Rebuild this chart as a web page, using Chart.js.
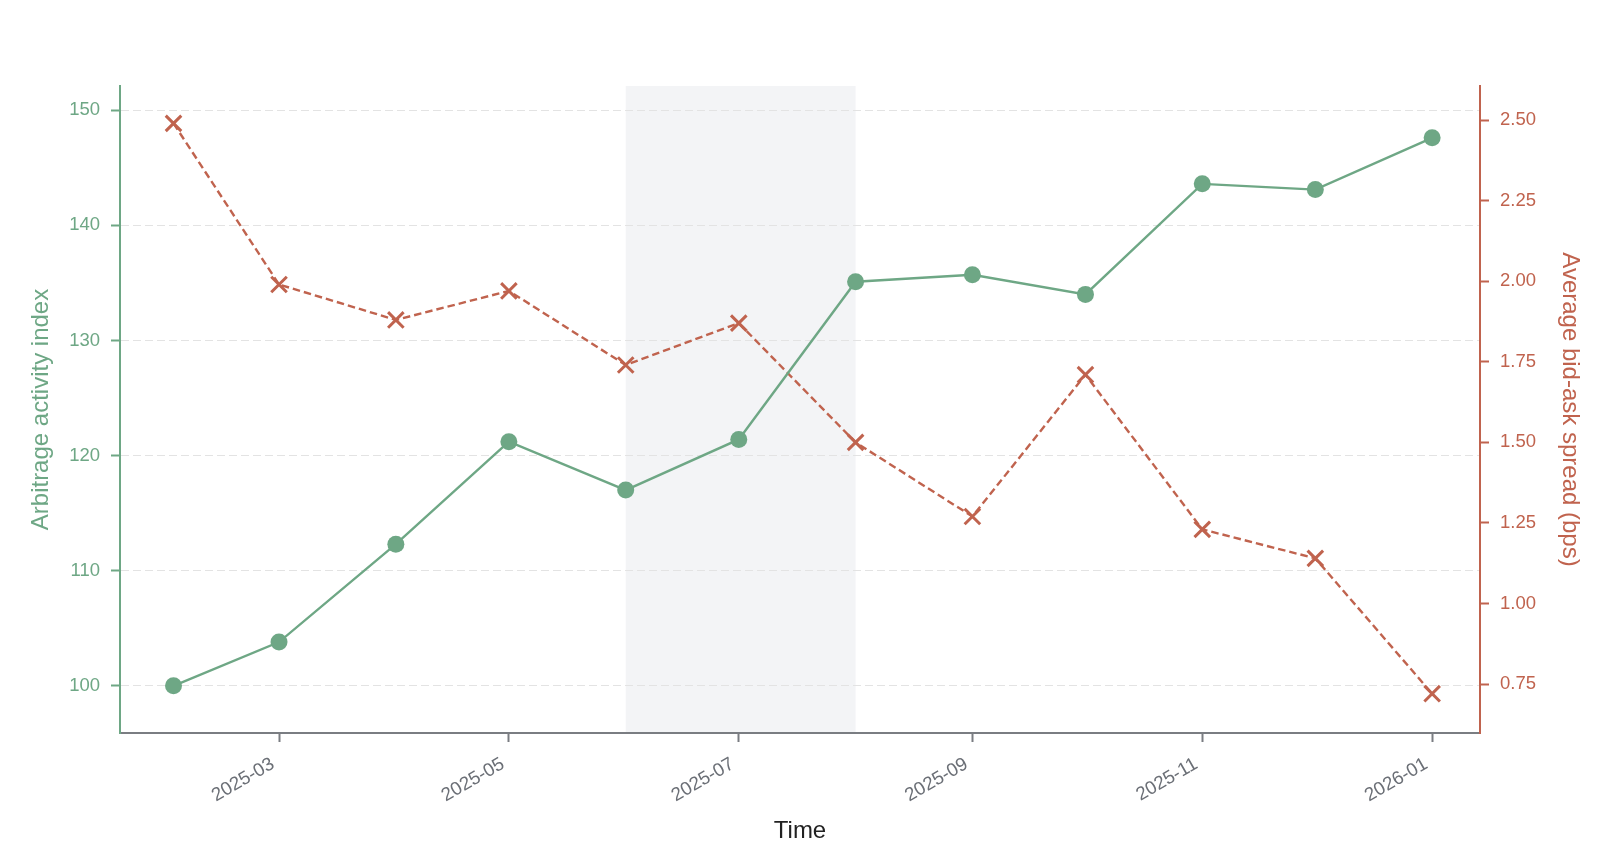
<!DOCTYPE html>
<html lang="en">
<head>
  <meta charset="UTF-8" />
  <title>Arbitrage activity vs bid-ask spread</title>
  <script src="https://cdn.jsdelivr.net/npm/chart.js"></script>
  <style>
    html, body { margin: 0; padding: 0; background: #ffffff; }
    #wrap { width: 1600px; height: 867px; position: relative; }
  </style>
</head>
<body>
  <div id="wrap"><canvas id="chart"></canvas></div>

  <script>
    // monthly observations
    const months = ['2025-02-01', '2025-03-01', '2025-04-01', '2025-05-01', '2025-06-01', '2025-07-01',
                    '2025-08-01', '2025-09-01', '2025-10-01', '2025-11-01', '2025-12-01', '2026-01-01'];
    const activityIndex = [100.0, 103.8, 112.3, 121.2, 117.0, 121.4, 135.1, 135.7, 134.0, 143.6, 143.1, 147.6];
    const bidAskSpread = [2.49, 1.99, 1.88, 1.97, 1.74, 1.87, 1.50, 1.27, 1.71, 1.23, 1.14, 0.72];

    const xTickDates = ['2025-03-01', '2025-05-01', '2025-07-01', '2025-09-01', '2025-11-01', '2026-01-01'];
    const leftTicks = [100, 110, 120, 130, 140, 150];
    const rightTicks = [0.75, 1.00, 1.25, 1.50, 1.75, 2.00, 2.25, 2.50];
    const shadedPeriod = ['2025-06-01', '2025-08-01'];

    const GREEN = '#6ea785';
    const RED = '#c0634e';
    const GREY = '#7a7d82';
    const FONT = "'Liberation Sans', Arial, Helvetica, sans-serif";
    const DAY = 86400000;

    const ts = d => Date.parse(d);
    const fmtMonth = v => {
      const d = new Date(v);
      return d.getUTCFullYear() + '-' + String(d.getUTCMonth() + 1).padStart(2, '0');
    };

    const shadePlugin = {
      id: 'shade',
      beforeDraw(chart) {
        const { ctx, chartArea, scales } = chart;
        const x0 = scales.x.getPixelForValue(ts(shadedPeriod[0]));
        const x1 = scales.x.getPixelForValue(ts(shadedPeriod[1]));
        ctx.save();
        ctx.fillStyle = '#f3f4f6';
        ctx.fillRect(x0, chartArea.top, x1 - x0, chartArea.bottom - chartArea.top);
        ctx.restore();
      }
    };

    new Chart(document.getElementById('chart'), {
      type: 'line',
      data: {
        datasets: [
          {
            label: 'Arbitrage activity index',
            data: months.map((m, i) => ({ x: ts(m), y: activityIndex[i] })),
            yAxisID: 'y',
            borderColor: GREEN,
            borderWidth: 2.4,
            pointRadius: 8.5,
            pointBorderWidth: 0,
            pointBackgroundColor: GREEN,
            tension: 0
          },
          {
            label: 'Average bid-ask spread (bps)',
            data: months.map((m, i) => ({ x: ts(m), y: bidAskSpread[i] })),
            yAxisID: 'y2',
            borderColor: RED,
            borderWidth: 2.4,
            borderDash: [7.5, 4],
            pointStyle: 'crossRot',
            pointRadius: 11,
            pointBorderWidth: 3,
            pointBorderColor: RED,
            tension: 0
          }
        ]
      },
      options: {
        responsive: true,
        maintainAspectRatio: false,
        animation: false,
        layout: { padding: { top: 86, left: 23, right: 12, bottom: 17 } },
        plugins: {
          legend: { display: false },
          tooltip: { enabled: false }
        },
        scales: {
          x: {
            type: 'linear',
            min: ts(months[0]) - 14.2 * DAY,
            max: ts(months[months.length - 1]) + 12.7 * DAY,
            afterBuildTicks: s => { s.ticks = xTickDates.map(d => ({ value: ts(d) })); },
            afterFit: s => { s.height = 117; },
            grid: { drawOnChartArea: false, tickLength: 9, tickWidth: 2, tickColor: GREY },
            border: { color: GREY, width: 2 },
            ticks: {
              autoSkip: false,
              minRotation: 30,
              maxRotation: 30,
              padding: 11,
              labelOffset: -6,
              color: '#6b6f76',
              font: { family: FONT, size: 18.8 },
              callback: v => fmtMonth(v)
            },
            title: {
              display: true,
              text: 'Time',
              color: '#222222',
              font: { family: FONT, size: 24 }
            }
          },
          y: {
            position: 'left',
            min: 95.9,
            max: 152.1,
            afterBuildTicks: s => { s.ticks = leftTicks.map(v => ({ value: v })); },
            afterFit: s => { s.width = 97; },
            grid: { color: '#e3e3e3', lineWidth: 1, tickLength: 9, tickWidth: 2, tickColor: GREEN },
            border: { color: GREEN, width: 2, dash: [8, 4] },
            ticks: {
              padding: 11,
              color: GREEN,
              font: { family: FONT, size: 18.5 },
              callback: v => String(v)
            },
            title: {
              display: true,
              text: 'Arbitrage activity index',
              color: GREEN,
              font: { family: FONT, size: 24 }
            }
          },
          y2: {
            position: 'right',
            min: 0.598,
            max: 2.606,
            afterBuildTicks: s => { s.ticks = rightTicks.map(v => ({ value: v })); },
            afterFit: s => { s.width = 108; },
            grid: { drawOnChartArea: false, tickLength: 9, tickWidth: 2, tickColor: RED },
            border: { color: RED, width: 2 },
            ticks: {
              padding: 11,
              color: RED,
              font: { family: FONT, size: 18.5 },
              callback: v => Number(v).toFixed(2)
            },
            title: {
              display: true,
              text: 'Average bid-ask spread (bps)',
              color: RED,
              font: { family: FONT, size: 24 }
            }
          }
        }
      },
      plugins: [shadePlugin]
    });
  </script>
</body>
</html>
